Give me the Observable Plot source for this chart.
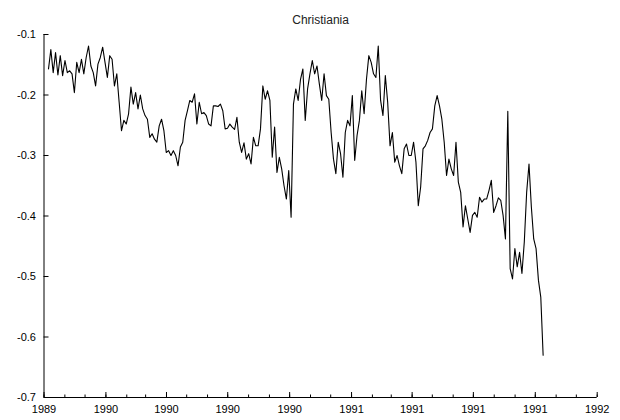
<!DOCTYPE html>
<html><head><meta charset="utf-8">
<script src="https://cdn.jsdelivr.net/npm/d3@7"></script>
<script src="https://cdn.jsdelivr.net/npm/@observablehq/plot@0.6"></script>
<style>body{margin:0;background:#fff}#chart{width:620px;height:420px}</style>
</head><body><div id="chart"></div>
<script>
const title = "Christiania";
const seriesStart = "1989-10-07T16:00:00Z";
const stepHours = 84;
const values = [
-0.157,-0.125,-0.163,-0.130,-0.167,-0.135,-0.168,-0.143,-0.163,-0.160,
-0.165,-0.196,-0.146,-0.163,-0.141,-0.165,-0.138,-0.119,-0.152,-0.163,
-0.185,-0.149,-0.138,-0.121,-0.146,-0.171,-0.135,-0.141,-0.185,-0.165,
-0.212,-0.259,-0.242,-0.248,-0.231,-0.187,-0.215,-0.196,-0.223,-0.200,
-0.223,-0.234,-0.240,-0.270,-0.264,-0.273,-0.278,-0.251,-0.240,-0.259,
-0.295,-0.292,-0.300,-0.292,-0.300,-0.317,-0.286,-0.278,-0.242,-0.226,
-0.209,-0.212,-0.198,-0.248,-0.212,-0.231,-0.229,-0.234,-0.248,-0.251,
-0.218,-0.218,-0.219,-0.215,-0.226,-0.256,-0.255,-0.248,-0.253,-0.257,
-0.237,-0.278,-0.295,-0.279,-0.306,-0.297,-0.314,-0.270,-0.284,-0.284,
-0.256,-0.185,-0.207,-0.193,-0.209,-0.303,-0.253,-0.328,-0.303,-0.322,
-0.350,-0.372,-0.325,-0.402,-0.215,-0.190,-0.209,-0.174,-0.157,-0.242,
-0.190,-0.165,-0.143,-0.165,-0.152,-0.182,-0.209,-0.165,-0.201,-0.207,
-0.262,-0.306,-0.330,-0.278,-0.297,-0.336,-0.262,-0.242,-0.251,-0.201,
-0.308,-0.267,-0.242,-0.193,-0.231,-0.174,-0.135,-0.146,-0.165,-0.171,
-0.119,-0.209,-0.234,-0.168,-0.212,-0.284,-0.262,-0.311,-0.300,-0.317,
-0.330,-0.289,-0.281,-0.300,-0.300,-0.278,-0.311,-0.383,-0.352,-0.289,
-0.284,-0.275,-0.262,-0.256,-0.218,-0.201,-0.218,-0.240,-0.278,-0.333,
-0.306,-0.322,-0.333,-0.278,-0.344,-0.361,-0.418,-0.383,-0.405,-0.427,
-0.399,-0.394,-0.402,-0.369,-0.377,-0.372,-0.372,-0.358,-0.341,-0.394,
-0.383,-0.370,-0.374,-0.399,-0.438,-0.227,-0.487,-0.504,-0.454,-0.484,
-0.460,-0.495,-0.443,-0.361,-0.314,-0.385,-0.438,-0.454,-0.506,-0.534,
-0.630
];
const yTicks = [-0.7, -0.6, -0.5, -0.4, -0.3, -0.2, -0.1];
const xStart = new Date("1989-10-01T00:00:00Z");
const xEnd = new Date("1992-01-01T00:00:00Z");

const t0 = new Date(seriesStart);
const data = values.map((v, i) => ({date: new Date(+t0 + i * stepHours * 3600e3), value: v}));
const quarterTicks = d3.utcMonth.range(xStart, new Date(+xEnd + 1), 3);
const monthTicks = d3.utcMonth.range(xStart, new Date(+xEnd + 1), 1);

const chart = Plot.plot({
  width: 620,
  height: 420,
  marginLeft: 43.5,
  marginRight: 23.3,
  marginTop: 34,
  marginBottom: 23,
  style: {fontFamily: "'Liberation Sans', Arial, sans-serif", fontSize: "11px", color: "black", background: "white"},
  x: {type: "utc", domain: [xStart, xEnd], label: null},
  y: {domain: [-0.7, -0.1], label: null},
  marks: [
    Plot.ruleX([xStart], {stroke: "black", strokeWidth: 1}),
    Plot.ruleY([-0.7], {stroke: "black", strokeWidth: 1}),
    Plot.axisY({ticks: yTicks, tickSize: 5, dx: 5, tickFormat: () => "", label: null}),
    Plot.axisY({ticks: yTicks, tickSize: 0, tickPadding: 8, tickFormat: d => d.toFixed(1), label: null}),
    Plot.axisX({ticks: monthTicks, tickSize: 2.5, dy: -2.5, tickFormat: () => "", label: null}),
    Plot.axisX({ticks: quarterTicks, tickSize: 5, dy: -5, tickFormat: () => "", label: null}),
    Plot.axisX({ticks: quarterTicks, tickSize: 0, tickPadding: 8, tickFormat: d3.utcFormat("%Y"), label: null}),
    Plot.line(data, {x: "date", y: "value", stroke: "black", strokeWidth: 1.1}),
    Plot.text([title], {frameAnchor: "top", dy: -19, fontSize: 12, fill: "#222"})
  ]
});
document.getElementById("chart").appendChild(chart);
</script>
</body></html>
